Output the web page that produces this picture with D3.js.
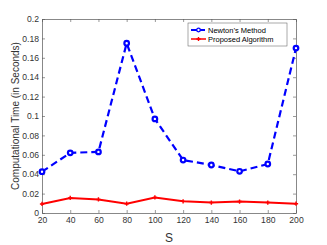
<!DOCTYPE html>
<html>
<head>
<meta charset="utf-8">
<script src="https://cdn.jsdelivr.net/npm/d3@7"></script>
<style>
  body { margin: 0; background: #fff; }
  text { font-family: "Liberation Sans", Arial, sans-serif; }
</style>
</head>
<body>
<div id="chart"></div>
<script>
// chart data
var sizes = [20, 40, 60, 80, 100, 120, 140, 160, 180, 200];
var newtonTime = [0.0426, 0.062, 0.063, 0.175, 0.097, 0.0546, 0.0495, 0.043, 0.0505, 0.170];
var proposedTime = [0.0093, 0.0155, 0.014, 0.0096, 0.016, 0.012, 0.0108, 0.0118, 0.0108, 0.0096];
var seriesNames = ["Newton\u2019s Method", "Proposed Algorithm"];
var yTicks = [0, 0.02, 0.04, 0.06, 0.08, 0.1, 0.12, 0.14, 0.16, 0.18, 0.2];

var W = 327, H = 245;
var m = {left: 42, right: 31, top: 19, bottom: 32};

var svg = d3.select("#chart").append("svg").attr("width", W).attr("height", H);

var x = d3.scaleLinear().domain([20, 200]).range([m.left, W - m.right]);
var y = d3.scaleLinear().domain([0, 0.2]).range([H - m.bottom, m.top]);

var axisColor = "#333", tickLen = 3;

// box + ticks
function ax(gen, tx) {
  var g = svg.append("g").attr("transform", tx).call(gen);
  g.select(".domain").attr("stroke", "#555").attr("stroke-width", 0.7);
  g.selectAll(".tick line").attr("stroke", "#555").attr("stroke-width", 0.6);
  g.selectAll(".tick text").attr("fill", axisColor).style("font-size", "8.6px");
  return g;
}
ax(d3.axisBottom(x).tickValues(sizes).tickSizeInner(-tickLen).tickSizeOuter(0).tickPadding(4),
   "translate(0," + (H - m.bottom) + ")");
ax(d3.axisTop(x).tickValues(sizes).tickSizeInner(-tickLen).tickSizeOuter(0).tickFormat(""),
   "translate(0," + m.top + ")");
ax(d3.axisLeft(y).tickValues(yTicks).tickSizeInner(-tickLen).tickSizeOuter(0).tickPadding(3).tickFormat(function(d) { return d3.format("")(+d.toFixed(2)); }),
   "translate(" + m.left + ",0)");
ax(d3.axisRight(y).tickValues(yTicks).tickSizeInner(-tickLen).tickSizeOuter(0).tickFormat(""),
   "translate(" + (W - m.right) + ",0)");

// axis labels
svg.append("text").attr("x", (m.left + W - m.right) / 2).attr("y", 242)
  .attr("text-anchor", "middle").attr("fill", axisColor).style("font-size", "12px").text("S");
svg.append("text")
  .attr("transform", "translate(19," + ((m.top + H - m.bottom) / 2) + ") rotate(-90)")
  .attr("text-anchor", "middle").attr("fill", axisColor).style("font-size", "10px")
  .text("Computational Time (in Seconds)");

var line = d3.line().x(function(d, i) { return x(sizes[i]); }).y(function(d) { return y(d); });

// proposed (red)
svg.append("path").datum(proposedTime).attr("d", line)
  .attr("fill", "none").attr("stroke", "#ff0000").attr("stroke-width", 2);
var star = d3.symbol().type(d3.symbolCross).size(10);
svg.selectAll(".pm").data(proposedTime).enter().append("path")
  .attr("transform", function(d, i) { return "translate(" + x(sizes[i]) + "," + y(d) + ")"; })
  .attr("d", star).attr("fill", "#ff0000");

// newton (blue dashed)
svg.append("path").datum(newtonTime).attr("d", line)
  .attr("fill", "none").attr("stroke", "#0000ff").attr("stroke-width", 2.2)
  .attr("stroke-dasharray", "7,4");
svg.selectAll(".nm").data(newtonTime).enter().append("circle")
  .attr("cx", function(d, i) { return x(sizes[i]); })
  .attr("cy", function(d) { return y(d); })
  .attr("r", 2.3).attr("fill", "#fff").attr("stroke", "#0000ff").attr("stroke-width", 2.2);

// legend
var lg = svg.append("g").attr("transform", "translate(188,23)");
lg.append("rect").attr("width", 99).attr("height", 23)
  .attr("fill", "#fff").attr("stroke", "#555").attr("stroke-width", 0.5);
lg.append("line").attr("x1", 3).attr("x2", 18).attr("y1", 7).attr("y2", 7)
  .attr("stroke", "#0000ff").attr("stroke-width", 1.8).attr("stroke-dasharray", "6,2");
lg.append("circle").attr("cx", 10.5).attr("cy", 7).attr("r", 1.8)
  .attr("fill", "#fff").attr("stroke", "#0000ff").attr("stroke-width", 1.3);
lg.append("line").attr("x1", 3).attr("x2", 18).attr("y1", 16).attr("y2", 16)
  .attr("stroke", "#ff0000").attr("stroke-width", 1.5);
lg.append("path").attr("transform", "translate(10.5,16)").attr("d", star).attr("fill", "#ff0000");
lg.selectAll(".lt").data(seriesNames).enter().append("text")
  .attr("x", 20).attr("y", function(d, i) { return 10 + i * 9; })
  .attr("fill", "#000").style("font-size", "7.5px").text(function(d) { return d; });
</script>
</body>
</html>
